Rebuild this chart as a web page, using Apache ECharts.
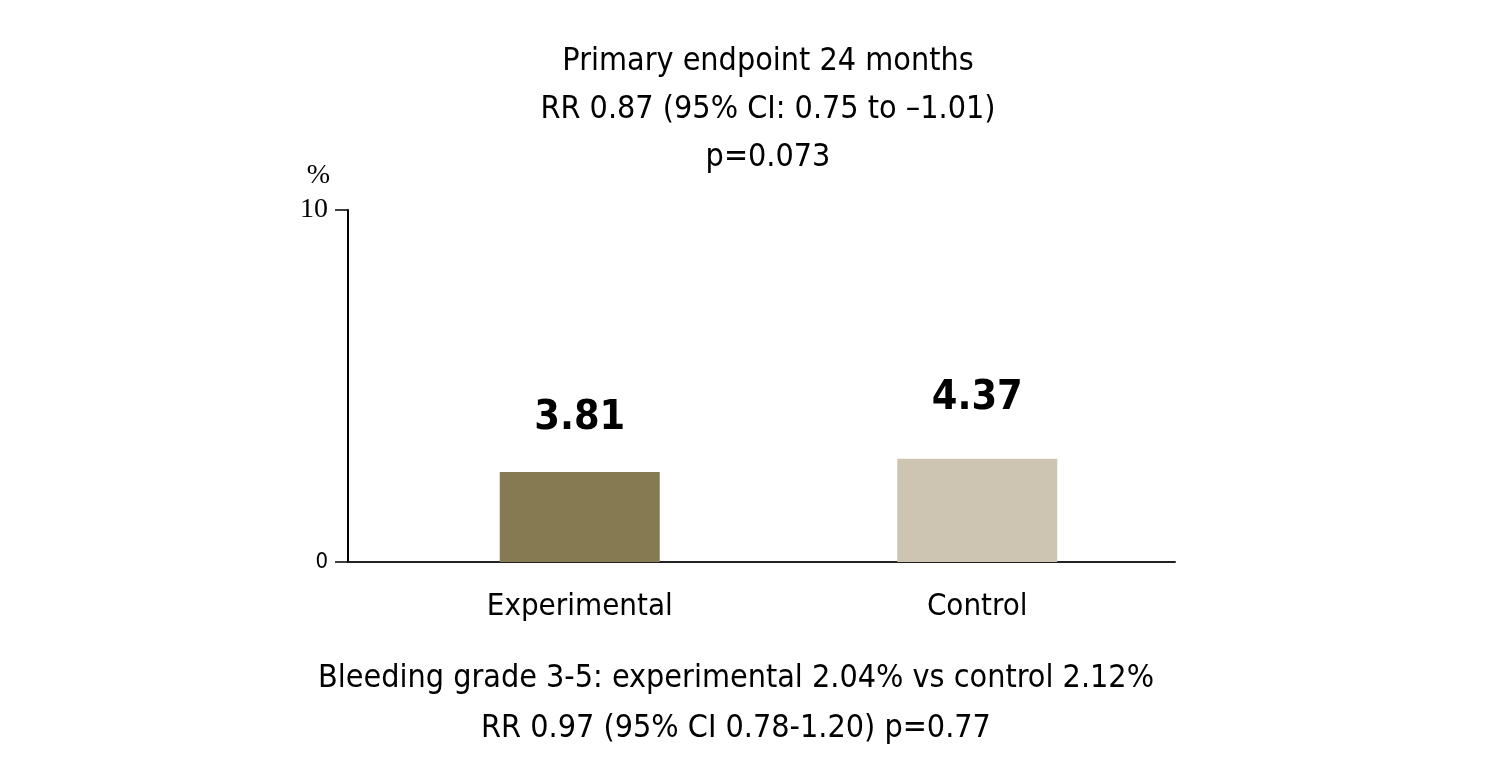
<!DOCTYPE html>
<html>
<head>
<meta charset="utf-8">
<script src="https://cdn.jsdelivr.net/npm/echarts@6/dist/echarts.min.js"></script>
<style>
html,body{margin:0;padding:0;background:#fff;}
#chart{width:1512px;height:784px;}
</style>
</head>
<body>
<div id="chart"></div>
<script>
const categories = ['Experimental', 'Control'];
const barValues = [2.56, 2.93];
const labelValues = [3.81, 4.37];
const barColors = ['#867a52', '#cdc5b2'];
const yMin = 0, yMax = 10, yInterval = 10;
const titleText = 'Primary endpoint 24 months\nRR 0.87 (95% CI: 0.75 to \u20131.01)\np=0.073';
const footText = 'Bleeding grade 3-5: experimental 2.04% vs control 2.12%\nRR 0.97 (95% CI 0.78-1.20) p=0.77';

const FONT = '"DejaVu Sans Condensed", "Liberation Sans Narrow", sans-serif';
const SERIF = '"Liberation Serif", "DejaVu Serif", serif';
const chart = echarts.init(document.getElementById('chart'));
chart.setOption({
  backgroundColor: '#fff',
  animation: false,
  title: [
    { text: titleText, left: 763, top: 33, textAlign: 'center',
      textStyle: { fontFamily: FONT, fontSize: 32, fontWeight: 'normal', color: '#000', lineHeight: 48 } },
    { text: footText, left: 731, top: 649, textAlign: 'center',
      textStyle: { fontFamily: FONT, fontSize: 32, fontWeight: 'normal', color: '#000', lineHeight: 50 } }
  ],
  grid: [
    { left: 348, right: 337, top: 210, bottom: 222 },
    { left: 381, right: 336, top: 210, bottom: 222 }
  ],
  xAxis: [
    { type: 'category', gridIndex: 0, data: categories,
      axisLine: { show: true, lineStyle: { color: '#222', width: 2 } },
      axisTick: { show: false }, axisLabel: { show: false }, splitLine: { show: false } },
    { type: 'category', gridIndex: 1, data: categories,
      axisLine: { show: false }, axisTick: { show: false }, splitLine: { show: false },
      axisLabel: { show: true, margin: 25, fontFamily: FONT, fontSize: 31, lineHeight: 40, color: '#000' } }
  ],
  yAxis: [
    { type: 'value', gridIndex: 0, min: yMin, max: yMax, interval: yInterval,
      name: '%', nameLocation: 'end', nameGap: 20,
      nameTextStyle: { fontFamily: SERIF, fontSize: 28, color: '#000', align: 'right', verticalAlign: 'bottom', padding: [0, 18, 0, 0] },
      axisLine: { show: true, lineStyle: { color: '#000', width: 2 } },
      axisTick: { show: true, length: 13, lineStyle: { color: '#000', width: 1.5 } },
      splitLine: { show: false },
      axisLabel: { margin: 20, color: '#000',
        formatter: function (v) { return v === 0 ? '{sans|' + v + '}' : '{serif|' + v + '}'; },
        rich: {
          sans: { fontFamily: FONT, fontSize: 22, color: '#000' },
          serif: { fontFamily: SERIF, fontSize: 28, color: '#000' }
        } } },
    { type: 'value', gridIndex: 1, min: yMin, max: yMax, interval: yInterval, show: false }
  ],
  series: [
    { type: 'bar', xAxisIndex: 1, yAxisIndex: 1, barWidth: 160,
      data: barValues.map((v, i) => ({ value: v, itemStyle: { color: barColors[i] } })),
      label: { show: false } },
    { type: 'scatter', xAxisIndex: 1, yAxisIndex: 1, symbolSize: 0.1,
      itemStyle: { color: 'transparent', opacity: 1 },
      data: labelValues,
      label: { show: true, position: 'inside', offset: [0, -10], fontFamily: FONT, fontSize: 41, fontWeight: 'bold', color: '#000',
        formatter: p => p.value.toFixed(2) } }
  ]
});
</script>
</body>
</html>
